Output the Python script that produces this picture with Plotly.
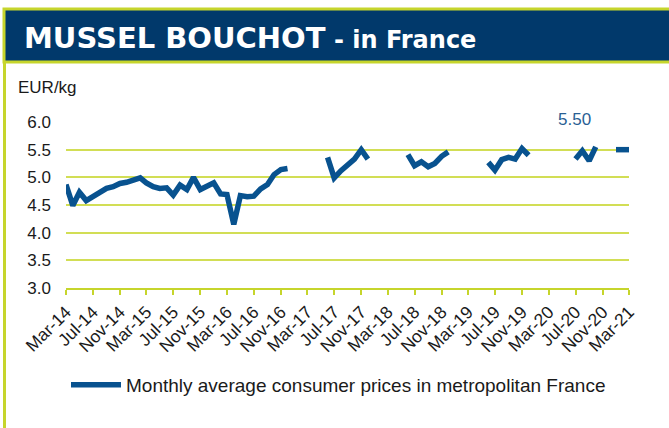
import plotly.graph_objects as go
import pandas as pd

# ---- data ----
months = pd.date_range("2014-03-01", "2021-03-01", freq="MS")
prices = [
    # 2014 Mar-Dec
    4.87, 4.49, 4.73, 4.58, 4.65, 4.73, 4.80, 4.83, 4.89, 4.91,
    # 2015
    4.96, 4.99, 4.90, 4.83, 4.80, 4.81, 4.68, 4.86, 4.78, 5.00, 4.78, 4.84,
    # 2016
    4.90, 4.70, 4.69, 4.15, 4.67, 4.65, 4.66, 4.79, 4.87, 5.05, 5.14, 5.16,
    # 2017
    None, None, None, None, None, 5.36, 4.99, 5.12, 5.22, 5.33, 5.50, 5.33,
    # 2018
    None, None, None, None, None, 5.41, 5.21, 5.28, 5.19, 5.25, 5.38, 5.46,
    # 2019
    None, None, None, None, None, 5.27, 5.13, 5.32, 5.36, 5.33, 5.52, 5.40,
    # 2020
    None, None, None, None, None, None, 5.33, 5.48, 5.30, 5.55, None, None,
    # 2021 Jan-Mar
    5.50, 5.50, 5.50,
]
series_name = "Monthly average consumer prices in metropolitan France"
tick_labels = ["Mar-14", "Jul-14", "Nov-14", "Mar-15", "Jul-15", "Nov-15", "Mar-16",
               "Jul-16", "Nov-16", "Mar-17", "Jul-17", "Nov-17", "Mar-18", "Jul-18",
               "Nov-18", "Mar-19", "Jul-19", "Nov-19", "Mar-20", "Jul-20", "Nov-20", "Mar-21"]
tick_dates = pd.date_range("2014-03-01", "2021-03-01", freq="4MS")
y_ticks = [3.0, 3.5, 4.0, 4.5, 5.0, 5.5, 6.0]
last_label = "5.50"

# ---- layout constants ----
W, H = 669, 428
L, R, T, B = 66, 40, 122, 140
PW, PH = W - L - R, H - T - B

def px_x(px):
    return (px - L) / PW

def px_y(py):
    return (H - B - py) / PH

NAVY = "#01396B"
BORDER = "#C6D52C"
GRID = "#D2DE55"
LINE = "#08528F"

fig = go.Figure()
fig.add_trace(go.Scatter(
    x=months, y=prices, mode="lines", name=series_name,
    line=dict(color=LINE, width=5.5), connectgaps=False,
))

fig.update_layout(
    width=W, height=H, autosize=False,
    margin=dict(l=L, r=R, t=T, b=B),
    paper_bgcolor="white", plot_bgcolor="white",
    font=dict(family="Liberation Sans, Arial, sans-serif", color="#1a1a1a", size=16),
    showlegend=True,
    legend=dict(orientation="h", x=px_x(66), y=px_y(385), xanchor="left", yanchor="middle",
                itemwidth=50,
                font=dict(size=19, color="#1a1a1a"), bgcolor="rgba(0,0,0,0)"),
    xaxis=dict(
        type="date", range=[months[0], months[-1]],
        tickvals=list(tick_dates), ticktext=tick_labels, tickangle=-45,
        ticks="outside", ticklen=5, tickwidth=2, tickcolor=BORDER,
        showline=True, linecolor=BORDER, linewidth=2,
        showgrid=False, zeroline=False,
        tickfont=dict(size=17.5, color="#1a1a1a"),
    ),
    yaxis=dict(
        range=[3, 6], tickvals=y_ticks, tickformat=".1f",
        showgrid=True, gridcolor=GRID, gridwidth=1.5,
        zeroline=False, showline=False, ticks="",
        ticklabelstandoff=14,
        tickfont=dict(size=17, color="#1a1a1a"),
    ),
    shapes=[
        # title band
        dict(type="rect", xref="paper", yref="paper",
             x0=px_x(4), x1=px_x(680), y0=px_y(62), y1=px_y(9),
             fillcolor=NAVY, line=dict(color=BORDER, width=3), layer="above"),
        # left border of frame
        dict(type="line", xref="paper", yref="paper",
             x0=px_x(4.5), x1=px_x(4.5), y0=px_y(62), y1=px_y(440),
             line=dict(color=BORDER, width=3)),
    ],
    annotations=[
        dict(xref="paper", yref="paper", x=px_x(22), y=px_y(38), xanchor="left", yanchor="middle",
             text="<b>MUSSEL BOUCHOT</b><b><span style='font-size:24px'> - in France</span></b>",
             showarrow=False,
             font=dict(family="DejaVu Sans, Verdana, sans-serif", size=29, color="white")),
        dict(xref="paper", yref="paper", x=px_x(16), y=px_y(88), xanchor="left", yanchor="middle",
             text="EUR/kg", showarrow=False, font=dict(size=17, color="#1a1a1a")),
        dict(xref="paper", yref="paper", x=px_x(574), y=px_y(119), xanchor="center", yanchor="middle",
             text=last_label, showarrow=False,
             font=dict(size=17, color="#2A5F94")),
    ],
)

fig.write_html("out.html")
